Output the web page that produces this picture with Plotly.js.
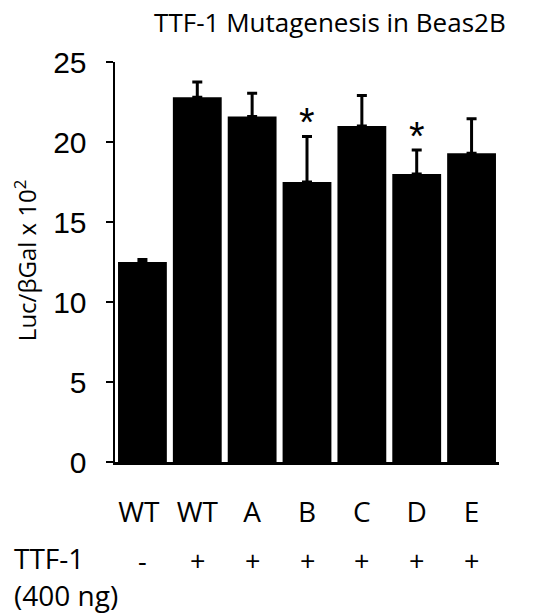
<!DOCTYPE html>
<html>
<head>
<meta charset="utf-8">
<script src="https://cdn.plot.ly/plotly-3.0.1.min.js"></script>
<style>html,body{margin:0;padding:0;background:#fff}#chart{width:533px;height:613px}</style>
</head>
<body>
<div id="chart"></div>
<script>
const categories = ["WT ", "WT", "A", "B", "C", "D", "E"];
const values = [12.5, 22.8, 21.6, 17.5, 21.0, 18.0, 19.3];
const errors = [0.15, 0.95, 1.45, 2.85, 1.9, 1.5, 2.15];
const ttf1 = ["-", "+", "+", "+", "+", "+", "+"];
const significant = [false, false, false, true, false, true, false];
const yTicks = [0, 5, 10, 15, 20, 25];

const labelFont = "'Open Sans', Lato, sans-serif";

const trace = {
  type: "bar",
  x: categories,
  y: values,
  marker: {color: "#000000", line: {width: 0}},
  error_y: {
    type: "data",
    symmetric: false,
    array: errors,
    arrayminus: values.map(() => 0),
    color: "#000000",
    thickness: 3,
    width: 5
  },
  hoverinfo: "skip"
};

const annotations = [];
categories.forEach((c, i) => {
  annotations.push({
    x: c, xref: "x", y: -0.247, yref: "paper",
    text: ttf1[i], showarrow: false,
    font: {family: labelFont, size: 27, color: "#000"},
    xanchor: "center", yanchor: "middle"
  });
  if (significant[i]) {
    annotations.push({
      x: c, xref: "x", y: values[i] + errors[i], yref: "y",
      text: "*", showarrow: false,
      font: {family: "Liberation Sans, Arial, sans-serif", size: 40, color: "#000"},
      xanchor: "center", yanchor: "middle", yshift: 14
    });
  }
});
annotations.push({
  x: -0.268, xref: "paper", y: -0.24, yref: "paper",
  text: "TTF-1", showarrow: false, xanchor: "left", yanchor: "middle",
  font: {family: labelFont, size: 28, color: "#000"}
});
annotations.push({
  x: -0.268, xref: "paper", y: -0.3325, yref: "paper",
  text: "(400 ng)", showarrow: false, xanchor: "left", yanchor: "middle",
  font: {family: labelFont, size: 28, color: "#000"}
});
annotations.push({
  x: -0.234, xref: "paper", y: 0.505, yref: "paper",
  text: "Luc/βGal x 10<sup>2</sup>", showarrow: false, textangle: -90,
  xanchor: "center", yanchor: "middle",
  font: {family: labelFont, size: 24, color: "#000"}
});

const layout = {
  width: 533, height: 613,
  margin: {l: 115, r: 34, t: 62, b: 151},
  paper_bgcolor: "#fff", plot_bgcolor: "#fff",
  showlegend: false,
  bargap: 0.11,
  title: {
    text: "TTF-1 Mutagenesis in Beas2B",
    font: {family: labelFont, size: 26, color: "#000"},
    x: 0.619, xanchor: "center", y: 0.962, yanchor: "middle"
  },
  xaxis: {
    type: "category",
    showline: true, linecolor: "#000", linewidth: 3,
    ticks: "", showgrid: false, zeroline: false,
    tickfont: {family: labelFont, size: 28, color: "#000"},
    ticklabelstandoff: 23,
    fixedrange: true
  },
  yaxis: {
    range: [0, 25],
    tickvals: yTicks,
    showline: true, linecolor: "#000", linewidth: 2.5,
    ticks: "outside", ticklen: 7, tickwidth: 2.5, tickcolor: "#000",
    showgrid: false, zeroline: false,
    tickfont: {family: "Liberation Sans, Arial, sans-serif", size: 30, color: "#000"},
    ticklabelstandoff: 13,
    fixedrange: true
  },
  annotations: annotations
};

Plotly.newPlot("chart", [trace], layout, {displayModeBar: false, staticPlot: true});
</script>
</body>
</html>
